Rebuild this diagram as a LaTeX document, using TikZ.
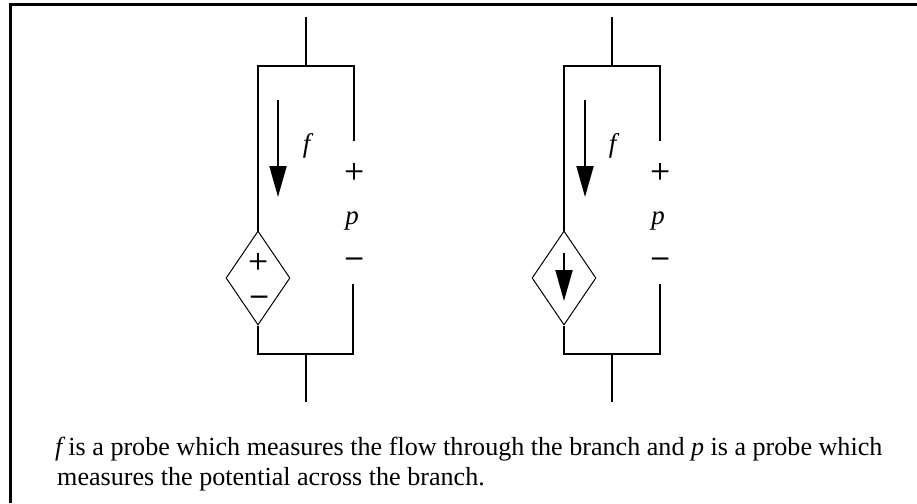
\documentclass[tikz,border=0pt]{standalone}
\usepackage{fontspec}
\setmainfont{Liberation Serif}
\newfontfamily\symfont[FakeBold=0.6]{Liberation Serif}
\usetikzlibrary{shapes.geometric,arrows.meta}
\tikzset{
  x=1pt,y=-1pt,
  wire/.style={line width=2.4pt,line join=miter},
  frameline/.style={line width=3pt},
  probe/.style={line width=2pt,-{Triangle[length=31pt,width=17pt]}},
  innerprobe/.style={line width=2pt,-{Triangle[length=31pt,width=17pt]}},
  src/.style={draw,line width=1pt,diamond,aspect=0.68,minimum width=64pt,minimum height=94pt,inner sep=0pt},
  sym/.style={inner sep=0pt,font=\symfont\fontsize{35}{35}\selectfont},
  lab/.style={inner sep=0pt,font=\fontsize{27}{27}\selectfont\itshape},
  captext/.style={inner sep=0pt,anchor=base west,font=\fontsize{26.1}{27}\selectfont}
}
\begin{document}
\begin{tikzpicture}
\useasboundingbox (0,0) rectangle (917,503);
% frame
\coordinate (fa) at (10.5,503);
\coordinate (fb) at (10.5,4.5);
\coordinate (fc) at (917,4.5);
\draw[frameline] (fa) -- (fb) -- (fc);
% left branch
\node[src] (d1) at (258,278) {};
\coordinate (t1a) at (306,17);
\coordinate (t1b) at (306,66);
\coordinate (tl1) at (258,66);
\coordinate (tr1) at (354,66);
\coordinate (pu1) at (354,141);
\coordinate (pl1) at (353,284);
\coordinate (bl1) at (258,354);
\coordinate (br1) at (353,354);
\coordinate (b1a) at (306,353);
\coordinate (b1b) at (306,402);
\coordinate (a1a) at (278,100);
\coordinate (a1b) at (278,197);
\draw[wire] (t1a) -- (t1b);
\draw[wire] (d1.north) -- (tl1) -- (tr1) -- (pu1);
\draw[wire] (d1.south) -- (bl1) -- (br1) -- (pl1);
\draw[wire] (b1a) -- (b1b);
\draw[probe] (a1a) -- (a1b);
\node[lab] (f1) at (306.5,146) {f};
\node[sym] (plus1) at (354,173) {+};
\node[lab] (p1) at (352,221) {p};
\node[sym] (minus1) at (354,264) {−};
\node[sym] (splus) at (258,263) {+};
\node[sym] (sminus) at (259,302) {−};
% right branch
\node[src] (d2) at (564,278) {};
\coordinate (t2a) at (612,17);
\coordinate (t2b) at (612,66);
\coordinate (tl2) at (564,66);
\coordinate (tr2) at (660,66);
\coordinate (pu2) at (660,141);
\coordinate (pl2) at (660,284);
\coordinate (bl2) at (564,354);
\coordinate (br2) at (660,354);
\coordinate (b2a) at (612,353);
\coordinate (b2b) at (612,402);
\coordinate (a2a) at (585,100);
\coordinate (a2b) at (585,197);
\coordinate (s2a) at (564,253);
\coordinate (s2b) at (564,301);
\draw[wire] (t2a) -- (t2b);
\draw[wire] (d2.north) -- (tl2) -- (tr2) -- (pu2);
\draw[wire] (d2.south) -- (bl2) -- (br2) -- (pl2);
\draw[wire] (b2a) -- (b2b);
\draw[probe] (a2a) -- (a2b);
\draw[innerprobe] (s2a) -- (s2b);
\node[lab] (f2) at (612.5,146) {f};
\node[sym] (plus2) at (660,173) {+};
\node[lab] (p2) at (658,221) {p};
\node[sym] (minus2) at (660,264) {−};
% caption
\node[captext] (c1) at (55,455) {\textit{f}\hspace{3pt}is a probe which measures the flow through the branch and \textit{p} is a probe which};
\node[captext] (c2) at (57,485) {measures the potential across the branch.};
\end{tikzpicture}
\end{document}
